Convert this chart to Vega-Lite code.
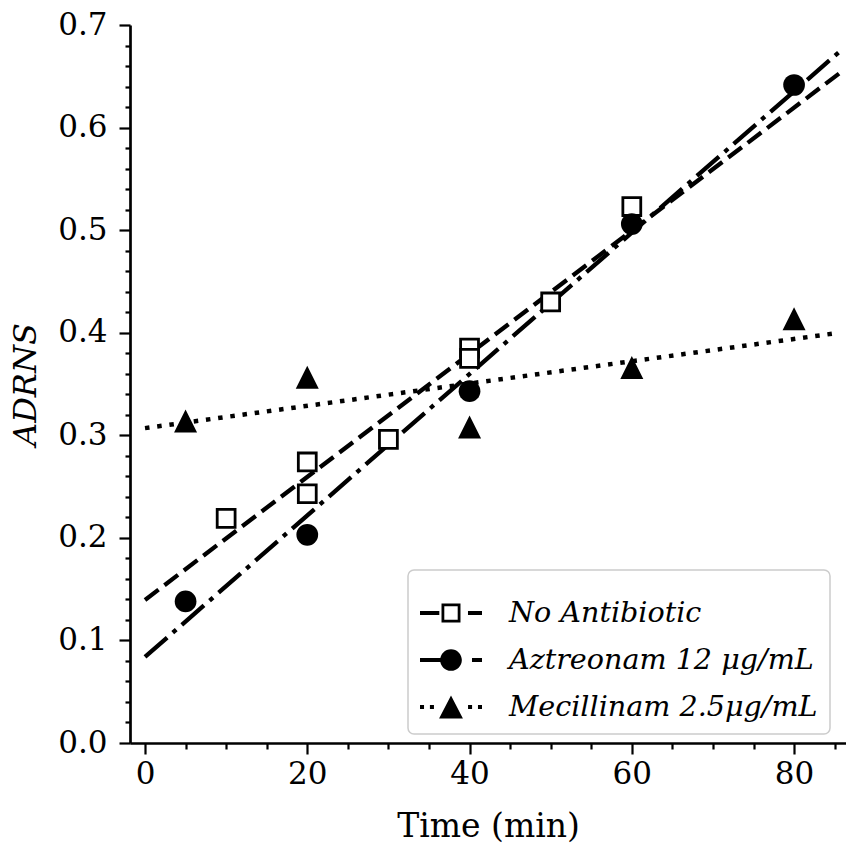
{
  "$schema": "https://vega.github.io/schema/vega-lite/v6.json",
  "width": 716,
  "height": 718,
  "autosize": {"type": "none"},
  "padding": {"left": 130, "top": 25, "right": 0, "bottom": 107},
  "background": "white",
  "datasets": {
    "points": [
      {"series": "No Antibiotic", "time": 10, "adrns": 0.219},
      {"series": "No Antibiotic", "time": 20, "adrns": 0.274},
      {"series": "No Antibiotic", "time": 20, "adrns": 0.243},
      {"series": "No Antibiotic", "time": 30, "adrns": 0.296},
      {"series": "No Antibiotic", "time": 40, "adrns": 0.385},
      {"series": "No Antibiotic", "time": 40, "adrns": 0.375},
      {"series": "No Antibiotic", "time": 50, "adrns": 0.430},
      {"series": "No Antibiotic", "time": 60, "adrns": 0.523},
      {"series": "Aztreonam 12 μg/mL", "time": 5, "adrns": 0.138},
      {"series": "Aztreonam 12 μg/mL", "time": 20, "adrns": 0.203},
      {"series": "Aztreonam 12 μg/mL", "time": 40, "adrns": 0.343},
      {"series": "Aztreonam 12 μg/mL", "time": 60, "adrns": 0.506},
      {"series": "Aztreonam 12 μg/mL", "time": 80, "adrns": 0.6415},
      {"series": "Mecillinam 2.5μg/mL", "time": 5, "adrns": 0.314},
      {"series": "Mecillinam 2.5μg/mL", "time": 20, "adrns": 0.3565},
      {"series": "Mecillinam 2.5μg/mL", "time": 40, "adrns": 0.308},
      {"series": "Mecillinam 2.5μg/mL", "time": 60, "adrns": 0.366},
      {"series": "Mecillinam 2.5μg/mL", "time": 80, "adrns": 0.4135}
    ],
    "fits": [
      {"series": "No Antibiotic", "time": 0, "adrns": 0.1395},
      {"series": "No Antibiotic", "time": 85.6, "adrns": 0.653},
      {"series": "Aztreonam 12 μg/mL", "time": 0, "adrns": 0.084},
      {"series": "Aztreonam 12 μg/mL", "time": 85.6, "adrns": 0.674},
      {"series": "Mecillinam 2.5μg/mL", "time": 0, "adrns": 0.307},
      {"series": "Mecillinam 2.5μg/mL", "time": 85.6, "adrns": 0.400}
    ]
  },
  "resolve": {"axis": {"x": "independent", "y": "independent"}},
  "layer": [
    {
      "data": {"name": "fits"},
      "transform": [{"filter": "datum.series === 'No Antibiotic'"}],
      "mark": {"type": "line", "color": "black", "strokeWidth": 4.3, "strokeCap": "butt", "strokeDash": [17, 7.4]},
      "encoding": {
        "x": {
          "field": "time", "type": "quantitative",
          "scale": {"domain": [-1.85, 86.4], "nice": false, "zero": false},
          "axis": {
            "orient": "bottom",
            "title": "Time (min)",
            "values": [0, 20, 40, 60, 80],
            "format": "d",
            "tickSize": 11,
            "labelPadding": 5,
            "labelOverlap": false,
            "labelFlush": false,
            "titleFontSize": 33,
            "titlePadding": 21
          }
        },
        "y": {
          "field": "adrns", "type": "quantitative",
          "scale": {"domain": [0, 0.7], "nice": false, "zero": false},
          "axis": {
            "orient": "left",
            "title": "ADRNS",
            "titleFontStyle": "italic",
            "titleFontSize": 32,
            "titlePadding": 15,
            "values": [0, 0.1, 0.2, 0.3, 0.4, 0.5, 0.6, 0.7],
            "format": ".1f",
            "tickSize": 11,
            "labelPadding": 12,
            "labelOverlap": false,
            "labelFlush": false
          }
        }
      }
    },
    {
      "data": {"name": "fits"},
      "transform": [{"filter": "datum.series === 'Aztreonam 12 μg/mL'"}],
      "mark": {"type": "line", "color": "black", "strokeWidth": 4.3, "strokeCap": "butt", "strokeDash": [29.4, 7.4, 4.6, 7.4]},
      "encoding": {
        "x": {"field": "time", "type": "quantitative", "axis": null},
        "y": {"field": "adrns", "type": "quantitative", "axis": null}
      }
    },
    {
      "data": {"name": "fits"},
      "transform": [{"filter": "datum.series === 'Mecillinam 2.5μg/mL'"}],
      "mark": {"type": "line", "color": "black", "strokeWidth": 4.5, "strokeCap": "butt", "strokeDash": [4.5, 7.8]},
      "encoding": {
        "x": {"field": "time", "type": "quantitative", "axis": null},
        "y": {"field": "adrns", "type": "quantitative", "axis": null}
      }
    },
    {
      "data": {"name": "points"},
      "transform": [{"filter": "datum.series === 'No Antibiotic'"}],
      "mark": {"type": "point", "shape": "square", "filled": false, "fill": "white", "fillOpacity": 1, "stroke": "black", "strokeWidth": 2.8, "size": 320, "opacity": 1},
      "encoding": {
        "x": {"field": "time", "type": "quantitative", "axis": null},
        "y": {"field": "adrns", "type": "quantitative", "axis": null}
      }
    },
    {
      "data": {"name": "points"},
      "transform": [{"filter": "datum.series === 'Aztreonam 12 μg/mL'"}],
      "mark": {"type": "point", "shape": "circle", "filled": true, "color": "black", "size": 471, "opacity": 1},
      "encoding": {
        "x": {"field": "time", "type": "quantitative", "axis": null},
        "y": {"field": "adrns", "type": "quantitative", "axis": null}
      }
    },
    {
      "data": {"name": "points"},
      "transform": [{"filter": "datum.series === 'Mecillinam 2.5μg/mL'"}],
      "mark": {"type": "point", "shape": "M0,-1 L1,1 L-1,1 Z", "filled": true, "color": "black", "size": 529, "opacity": 1},
      "encoding": {
        "x": {"field": "time", "type": "quantitative", "axis": null},
        "y": {"field": "adrns", "type": "quantitative", "axis": null}
      }
    },
    {
      "data": {"name": "points"},
      "transform": [{"filter": "datum.time < 0"}],
      "mark": {"type": "point", "filled": true, "color": "black"},
      "encoding": {
        "x": {
          "field": "time", "type": "quantitative",
          "axis": {
            "orient": "bottom", "title": null, "labels": false, "domain": false,
            "values": [5, 10, 15, 25, 30, 35, 45, 50, 55, 65, 70, 75, 85],
            "tickSize": 6
          }
        },
        "y": {
          "field": "adrns", "type": "quantitative",
          "axis": {
            "orient": "left", "title": null, "labels": false, "domain": false,
            "values": [0.02, 0.04, 0.06, 0.08, 0.12, 0.14, 0.16, 0.18, 0.22, 0.24, 0.26, 0.28, 0.32, 0.34, 0.36, 0.38, 0.42, 0.44, 0.46, 0.48, 0.52, 0.54, 0.56, 0.58, 0.62, 0.64, 0.66, 0.68],
            "tickSize": 5
          }
        },
        "shape": {
          "field": "series", "type": "nominal",
          "scale": {
            "domain": ["No Antibiotic", "Aztreonam 12 μg/mL", "Mecillinam 2.5μg/mL"],
            "range": [
              "M-1,-0.065 L-0.377,-0.065 L-0.377,0.065 L-1,0.065 Z M-0.306,-0.306 L0.306,-0.306 L0.306,0.306 L-0.306,0.306 Z M-0.216,-0.216 L-0.216,0.216 L0.216,0.216 L0.216,-0.216 Z M0.548,-0.065 L1,-0.065 L1,0.065 L0.548,0.065 Z",
              "M-1,-0.065 L-0.3,-0.065 L-0.3,0.065 L-1,0.065 Z M0.35,0 C0.35,0.193 0.193,0.35 0,0.35 C-0.193,0.35 -0.35,0.193 -0.35,0 C-0.35,-0.193 -0.193,-0.35 0,-0.35 C0.193,-0.35 0.35,-0.193 0.35,0 Z M0.677,-0.065 L1,-0.065 L1,0.065 L0.677,0.065 Z",
              "M-1,-0.065 L-0.87,-0.065 L-0.87,0.065 L-1,0.065 Z M-0.68,-0.065 L-0.55,-0.065 L-0.55,0.065 L-0.68,0.065 Z M0,-0.37 L0.385,0.37 L-0.385,0.37 Z M0.55,-0.065 L0.68,-0.065 L0.68,0.065 L0.55,0.065 Z M0.87,-0.065 L1,-0.065 L1,0.065 L0.87,0.065 Z"
            ]
          },
          "legend": {
            "title": null,
            "orient": "none",
            "legendX": 278,
            "legendY": 545,
            "padding": 12,
            "strokeColor": "#cccccc",
            "cornerRadius": 6,
            "fillColor": "white",
            "symbolSize": 3844,
            "symbolOpacity": 1,
            "symbolFillColor": "black",
            "symbolStrokeWidth": 0,
            "labelFont": "DejaVu Serif",
            "labelFontStyle": "italic",
            "labelFontSize": 28.6,
            "labelColor": "black",
            "labelLimit": 500,
            "labelOffset": 27,
            "rowPadding": 1
          }
        }
      }
    }
  ],
  "config": {
    "view": {"stroke": null},
    "legend": {"strokeWidth": 1.5},
    "axis": {
      "grid": false,
      "domainColor": "black",
      "domainWidth": 2.7,
      "tickColor": "black",
      "tickWidth": 2.2,
      "labelFont": "DejaVu Serif",
      "labelFontSize": 31,
      "labelColor": "black",
      "titleFont": "DejaVu Serif",
      "titleColor": "black",
      "titleFontWeight": "normal"
    }
  }
}
